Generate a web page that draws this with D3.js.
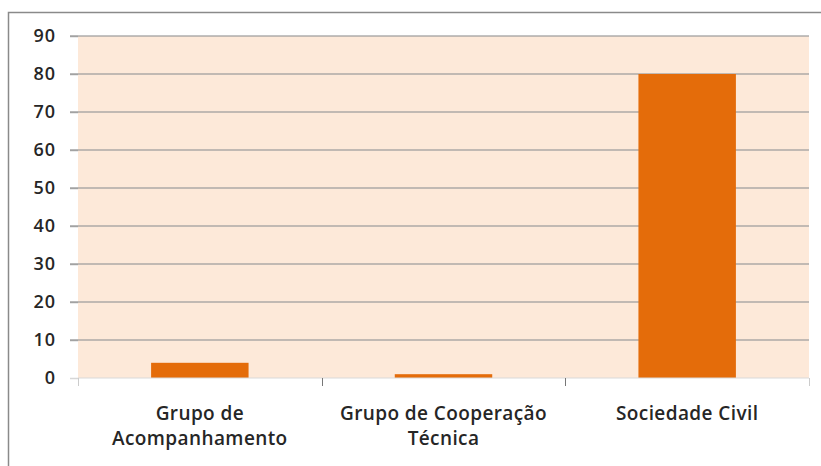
<!DOCTYPE html>
<html>
<head>
<meta charset="utf-8">
<script src="https://cdn.jsdelivr.net/npm/d3@7"></script>
<style>
  body { margin: 0; background: #fff; }
  text { font-family: "Open Sans", Lato, sans-serif; font-weight: 600; fill: #262626; }
</style>
</head>
<body>
<svg></svg>
<script>
const categories = ["Grupo de Acompanhamento", "Grupo de Cooperação Técnica", "Sociedade Civil"];
const values = [4, 1, 80];
const yTicks = [0, 10, 20, 30, 40, 50, 60, 70, 80, 90];

let width = 821;
let height = 466;
let margin = {top: 36, right: 12, bottom: 88, left: 78};

let svg = d3.select("svg")
    .attr("width", width)
    .attr("height", height);

// outer chart frame (cut off at the right and bottom)
svg.append("path")
    .attr("d", "M8.5," + height + "V12.5H" + width)
    .attr("fill", "none")
    .attr("stroke", "#8a8a8a")
    .attr("stroke-width", 1.5);

let x = d3.scaleBand()
    .domain(categories)
    .range([margin.left, width - margin.right])
    .paddingInner(0.6)
    .paddingOuter(0.3);

let y = d3.scaleLinear()
    .domain([0, 90])
    .range([height - margin.bottom, margin.top]);

// plot area
svg.append("rect")
    .attr("x", margin.left)
    .attr("y", y(90))
    .attr("width", width - margin.right - margin.left)
    .attr("height", y(0) - y(90))
    .attr("fill", "#fde9d9");

// gridlines
svg.append("g")
    .selectAll("line")
    .data(yTicks.filter(d => d > 0))
    .enter()
    .append("line")
    .attr("x1", margin.left - 8)
    .attr("x2", width - margin.right)
    .attr("y1", d => y(d))
    .attr("y2", d => y(d))
    .attr("stroke", "#9a9a9a")
    .attr("stroke-opacity", 0.8)
    .attr("stroke-width", 1.5);

// bars
svg.append("g")
    .selectAll("rect")
    .data(values)
    .enter()
    .append("rect")
    .attr("x", (d, i) => x(categories[i]))
    .attr("y", d => y(d))
    .attr("width", x.bandwidth())
    .attr("height", d => y(0) - y(d))
    .attr("fill", "#e46c0a");

// y axis
let yAxis = svg.append("g")
    .attr("transform", "translate(" + margin.left + ",0)")
    .call(d3.axisLeft(y).tickValues(yTicks).tickSize(8).tickPadding(14));
yAxis.select(".domain").remove();
yAxis.selectAll(".tick line").attr("stroke", "#9a9a9a").attr("stroke-width", 1.5)
    .attr("stroke-opacity", d => d === 0 ? 0.4 : 0.8);
yAxis.selectAll(".tick text")
    .style("font-size", "18px")
    .style("letter-spacing", "1px")
    .attr("fill", "#262626");

// x axis baseline
svg.append("line")
    .attr("x1", margin.left)
    .attr("x2", width - margin.right)
    .attr("y1", y(0))
    .attr("y2", y(0))
    .attr("stroke", "#d9d9d9")
    .attr("stroke-width", 1);

// category boundary ticks
let bounds = categories.map(c => x(c) - x.step() * x.paddingInner() / 2)
    .concat([width - margin.right]);
bounds[0] = margin.left;
svg.append("g")
    .selectAll("line")
    .data(bounds)
    .enter()
    .append("line")
    .attr("x1", d => Math.round(d) + 0.5)
    .attr("x2", d => Math.round(d) + 0.5)
    .attr("y1", y(0))
    .attr("y2", y(0) + 8)
    .attr("stroke", (d, i) => i === 1 || i === 2 ? "#777" : "#ccc");

// category labels
function wrap(text, w) {
    text.each(function() {
        let t = d3.select(this);
        let words = t.text().split(/\s+/);
        let line = [];
        let lines = [];
        t.text(null);
        let probe = t.append("tspan");
        words.forEach(word => {
            line.push(word);
            probe.text(line.join(" "));
            if (probe.node().getComputedTextLength() > w && line.length > 1) {
                line.pop();
                lines.push(line.join(" "));
                line = [word];
            }
        });
        lines.push(line.join(" "));
        probe.remove();
        lines.forEach((l, i) => {
            t.append("tspan")
                .attr("x", t.attr("x"))
                .attr("dy", i === 0 ? 0 : 25)
                .text(l);
        });
    });
}

svg.append("g")
    .selectAll("text")
    .data(categories)
    .enter()
    .append("text")
    .attr("x", d => x(d) + x.bandwidth() / 2)
    .attr("y", 420)
    .attr("text-anchor", "middle")
    .style("font-size", "19px")
    .style("letter-spacing", "0.4px")
    .text(d => d)
    .call(wrap, x.step() * 0.97);
</script>
</body>
</html>
